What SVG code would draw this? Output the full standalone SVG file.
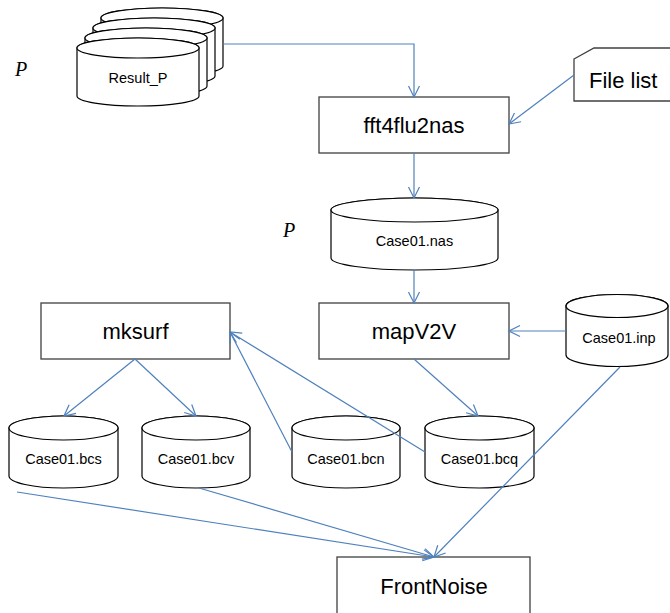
<svg xmlns="http://www.w3.org/2000/svg" width="670" height="613" viewBox="0 0 670 613">
<defs>
<marker id="arr" markerUnits="userSpaceOnUse" markerWidth="14" markerHeight="14" viewBox="0 0 14 14" refX="12" refY="7" orient="auto">
<path d="M1,1.5 L12,7 L1,12.5" fill="none" stroke="#4f81bd" stroke-width="1.2"/>
</marker>
</defs>
<style>
.box{fill:#fff;stroke:#404040;stroke-width:1.3}
.cyl{fill:#fff;stroke:#000;stroke-width:1.2}
.lbl{font-family:"Liberation Sans",Arial,sans-serif;font-size:22px;fill:#000;text-anchor:middle}
.clbl{font-family:"Liberation Sans",Arial,sans-serif;font-size:14.5px;fill:#000;text-anchor:middle}
.pv{font-family:"Liberation Serif","Times New Roman",serif;font-style:italic;font-size:20px;fill:#000}
.ln{fill:none;stroke:#4f81bd;stroke-width:1.2}
</style>
<rect width="670" height="613" fill="#fff"/>

<text class="pv" x="15" y="76">P</text>
<text class="pv" x="283" y="237">P</text>

<g id="result_p">
<path class="cyl" d="M101,18 V66 A61,10 0 0 0 223,66 V18 A61,10 0 0 0 101,18 Z"/><ellipse class="cyl" cx="162" cy="18" rx="61" ry="10"/>
<path class="cyl" d="M93,28 V76 A61,10 0 0 0 215,76 V28 A61,10 0 0 0 93,28 Z"/><ellipse class="cyl" cx="154" cy="28" rx="61" ry="10"/>
<path class="cyl" d="M85,38 V86 A61,10 0 0 0 207,86 V38 A61,10 0 0 0 85,38 Z"/><ellipse class="cyl" cx="146" cy="38" rx="61" ry="10"/>
<path class="cyl" d="M77,48 V96 A61,10 0 0 0 199,96 V48 A61,10 0 0 0 77,48 Z"/><ellipse class="cyl" cx="138" cy="48" rx="61" ry="10"/>
<text class="clbl" x="138" y="83">Result_P</text>
</g>

<g id="fft4flu2nas">
<rect class="box" x="319" y="97" width="190" height="56"/>
<text class="lbl" x="414" y="133">fft4flu2nas</text>
</g>

<g id="filelist">
<path class="box" d="M574,59 L594,48 H680 V101 H574 Z"/>
<text class="lbl" x="589" y="88" style="text-anchor:start">File list</text>
</g>

<g id="case01_nas">
<path class="cyl" d="M331,210 V258 A83.5,12 0 0 0 498,258 V210 A83.5,12 0 0 0 331,210 Z"/><ellipse class="cyl" cx="414.5" cy="210" rx="83.5" ry="12"/>
<text class="clbl" x="414.5" y="246">Case01.nas</text>
</g>

<g id="mksurf">
<rect class="box" x="41" y="303" width="189" height="56"/>
<text class="lbl" x="135.5" y="339">mksurf</text>
</g>

<g id="mapv2v">
<rect class="box" x="319" y="303" width="190" height="56"/>
<text class="lbl" x="414" y="339">mapV2V</text>
</g>

<g id="case01_inp">
<path class="cyl" d="M566,306 V355 A51,11.5 0 0 0 668,355 V306 A51,11.5 0 0 0 566,306 Z"/><ellipse class="cyl" cx="617" cy="306" rx="51" ry="11.5"/>
<text class="clbl" x="619" y="343">Case01.inp</text>
</g>

<g id="case01_bcs">
<path class="cyl" d="M9,428 V476 A54.5,12 0 0 0 118,476 V428 A54.5,12 0 0 0 9,428 Z"/><ellipse class="cyl" cx="63.5" cy="428" rx="54.5" ry="12"/>
<text class="clbl" x="63.5" y="464">Case01.bcs</text>
</g>
<g id="case01_bcv">
<path class="cyl" d="M142,428 V476 A54,12 0 0 0 250,476 V428 A54,12 0 0 0 142,428 Z"/><ellipse class="cyl" cx="196" cy="428" rx="54" ry="12"/>
<text class="clbl" x="196" y="464">Case01.bcv</text>
</g>
<g id="case01_bcn">
<path class="cyl" d="M292,428 V476 A54,12 0 0 0 400,476 V428 A54,12 0 0 0 292,428 Z"/><ellipse class="cyl" cx="346" cy="428" rx="54" ry="12"/>
<text class="clbl" x="346" y="464">Case01.bcn</text>
</g>
<g id="case01_bcq">
<path class="cyl" d="M425,428 V476 A54.5,12 0 0 0 534,476 V428 A54.5,12 0 0 0 425,428 Z"/><ellipse class="cyl" cx="479.5" cy="428" rx="54.5" ry="12"/>
<text class="clbl" x="479.5" y="464">Case01.bcq</text>
</g>

<g id="frontnoise">
<rect class="box" x="337" y="557" width="193" height="70"/>
<text class="lbl" x="434" y="594">FrontNoise</text>
</g>

<g id="connectors">
<path class="ln" d="M223,44 H414 V97" marker-end="url(#arr)"/>
<path class="ln" d="M574,75 L509,124" marker-end="url(#arr)"/>
<path class="ln" d="M414,153 V198" marker-end="url(#arr)"/>
<path class="ln" d="M414,270 V303" marker-end="url(#arr)"/>
<path class="ln" d="M566,331 H509" marker-end="url(#arr)"/>
<path class="ln" d="M135,359 L64,416" marker-end="url(#arr)"/>
<path class="ln" d="M135,359 L196,416" marker-end="url(#arr)"/>
<path class="ln" d="M414,359 L478,416" marker-end="url(#arr)"/>
<path class="ln" d="M292,452 L230,332" marker-end="url(#arr)"/>
<path class="ln" d="M425,452 L230,332" marker-end="url(#arr)"/>
<path class="ln" d="M17,492 L434,557" marker-end="url(#arr)"/>
<path class="ln" d="M199,488 L434,557" marker-end="url(#arr)"/>
<path class="ln" d="M620,367 L434,557" marker-end="url(#arr)"/>
</g>
</svg>
